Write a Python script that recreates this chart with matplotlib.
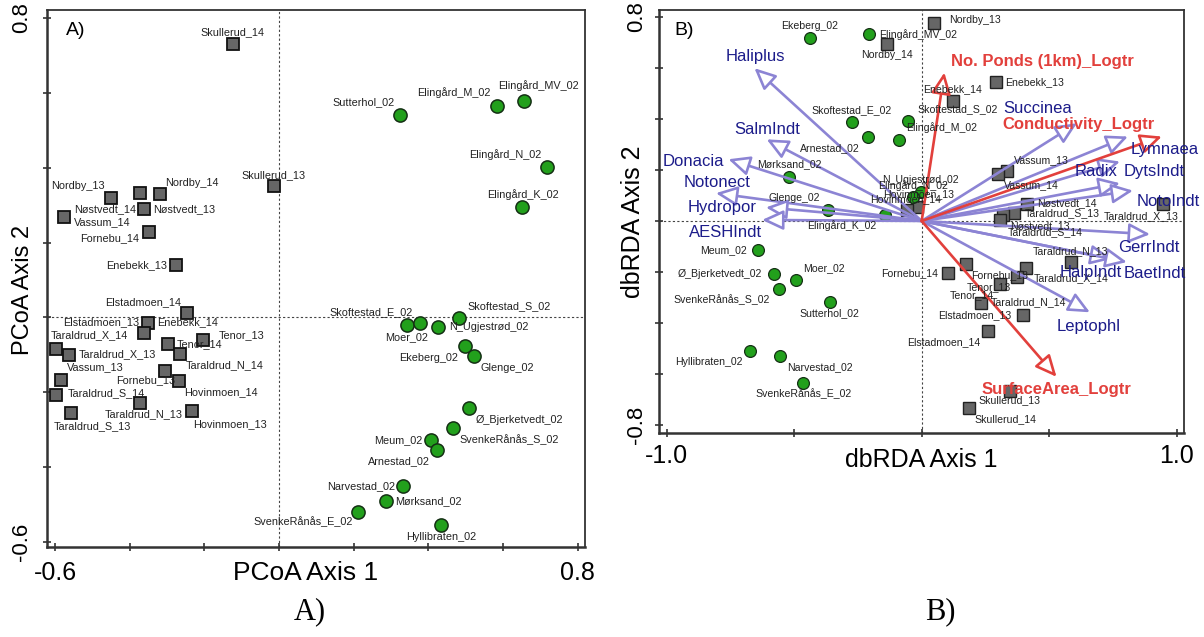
import matplotlib.pyplot as plt
import numpy as np

plt.rcParams['font.family'] = ['Liberation Sans', 'DejaVu Sans']

# ---- A) PCoA ----
a_sq_names = ['Skullerud_14', 'Skullerud_13', 'Nordby_13', 'Nøstvedt_14', 'Nordby_14', 'Nøstvedt_13',
              'Vassum_14', 'Fornebu_14', 'Enebekk_13', 'Elstadmoen_14', 'Enebekk_14', 'Elstadmoen_13',
              'Taraldrud_X_14', 'Taraldrud_X_13', 'Tenor_14', 'Tenor_13', 'Taraldrud_N_14', 'Fornebu_13',
              'Hovinmoen_14', 'Vassum_13', 'Taraldrud_S_14', 'Taraldrud_N_13', 'Taraldrud_S_13', 'Hovinmoen_13']
a_sq_x = [-0.124, -0.015, -0.451, -0.373, -0.319, -0.362, -0.576, -0.349, -0.277, -0.247, -0.350, -0.361,
          -0.599, -0.562, -0.299, -0.203, -0.265, -0.305, -0.267, -0.585, -0.598, -0.373, -0.558, -0.233]
a_sq_y = [0.731, 0.352, 0.319, 0.333, 0.330, 0.290, 0.267, 0.227, 0.139, 0.011, -0.015, -0.042,
          -0.083, -0.099, -0.072, -0.061, -0.097, -0.143, -0.171, -0.166, -0.206, -0.229, -0.255, -0.250]

a_ci_names = ['Sutterhol_02', 'Elingård_M_02', 'Elingård_MV_02', 'Elingård_N_02', 'Elingård_K_02',
              'Skoftestad_S_02', 'Moer_02', 'Skoftestad_E_02', 'N_Ugjestrød_02', 'Ekeberg_02', 'Glenge_02',
              'Ø_Bjerketvedt_02', 'SvenkeRånås_S_02', 'Meum_02', 'Arnestad_02', 'Narvestad_02',
              'Mørksand_02', 'SvenkeRånås_E_02', 'Hyllibraten_02']
a_ci_x = [0.324, 0.584, 0.657, 0.718, 0.652, 0.483, 0.342, 0.378, 0.427, 0.497, 0.521,
          0.508, 0.467, 0.408, 0.423, 0.331, 0.287, 0.211, 0.434]
a_ci_y = [0.541, 0.565, 0.577, 0.403, 0.294, -0.001, -0.021, -0.015, -0.026, -0.077, -0.104,
          -0.242, -0.294, -0.328, -0.355, -0.450, -0.490, -0.519, -0.555]

# ---- B) dbRDA ----
b_sq_names = ['Nordby_13', 'Nordby_14', 'Enebekk_13', 'Enebekk_14', 'Vassum_13', 'Vassum_14',
              'Hovinmoen_13', 'Hovinmoen_14', 'Nøstvedt_14', 'Taraldrud_S_13', 'Taraldrud_X_13', 'Nøstvedt_13',
              'Taraldrud_S_14', 'Taraldrud_N_13', 'Taraldrud_X_14', 'Fornebu_13', 'Taraldrud_N_14', 'Tenor_13',
              'Tenor_14', 'Elstadmoen_13', 'Elstadmoen_14', 'Fornebu_14', 'Skullerud_13', 'Skullerud_14']
b_sq_x = [0.048, -0.135, 0.290, 0.122, 0.333, 0.298, -0.017, -0.059, 0.412, 0.363, 0.947, 0.320,
          0.307, 0.585, 0.408, 0.173, 0.373, 0.307, 0.233, 0.396, 0.259, 0.104, 0.346, 0.185]
b_sq_y = [0.775, 0.693, 0.544, 0.472, 0.197, 0.183, 0.056, 0.043, 0.065, 0.030, 0.067, 0.024,
          0.004, -0.160, -0.183, -0.170, -0.218, -0.248, -0.320, -0.369, -0.431, -0.203, -0.665, -0.735]

b_ci_names = ['Ekeberg_02', 'Elingård_MV_02', 'Skoftestad_S_02', 'Elingård_M_02', 'Skoftestad_E_02',
              'Arnestad_02', 'Mørksand_02', 'Glenge_02', 'Elingård_K_02', 'N_Ugjestrød_02', 'Elingård_N_02',
              'Meum_02', 'Ø_Bjerketvedt_02', 'Moer_02', 'SvenkeRånås_S_02', 'Sutterhol_02',
              'Hyllibraten_02', 'Narvestad_02', 'SvenkeRånås_E_02']
b_ci_x = [-0.438, -0.205, -0.053, -0.088, -0.275, -0.212, -0.520, -0.369, -0.144, -0.003, -0.033,
          -0.643, -0.579, -0.494, -0.561, -0.360, -0.672, -0.555, -0.464]
b_ci_y = [0.719, 0.732, 0.393, 0.318, 0.389, 0.331, 0.174, 0.043, 0.024, 0.113, 0.095,
          -0.114, -0.208, -0.231, -0.268, -0.316, -0.510, -0.528, -0.634]

vec_names = ['Haliplus', 'SalmIndt', 'Donacia', 'Notonect', 'Hydropor', 'AESHIndt', 'Succinea',
             'Lymnaea', 'Radix', 'DytsIndt', 'NotoIndt', 'GerrIndt', 'HalpIndt', 'BaetIndt', 'Leptophl']
vec_x = [-0.656, -0.608, -0.758, -0.807, -0.611, -0.626, 0.609, 0.809, 0.778, 0.778, 0.829, 0.896, 0.746, 0.805, 0.660]
vec_y = [0.599, 0.320, 0.242, 0.109, 0.053, 0.004, 0.383, 0.331, 0.233, 0.148, 0.119, -0.052, -0.149, -0.161, -0.358]

env_names = ['No. Ponds (1km)_Logtr', 'Conductivity_Logtr', 'SurfaceArea_Logtr']
env_x = [0.089, 0.942, 0.529]
env_y = [0.582, 0.331, -0.611]

# label offsets (pixels) for text placement
a_sq_off = [(0, 12), (0, 11), (-33, 12), (-35, -16), (32, 11), (40, 0), (38, -5), (-39, -6), (-39, 0),
            (-44, 11), (39, 1), (-43, 11), (34, 13), (48, 0), (32, 0), (38, 5), (44, -11), (-20, -9),
            (41, -11), (35, 12), (50, 1), (4, -11), (22, -13), (38, -13)]
a_ci_off = [(-36, 13), (-43, 13), (14, 16), (-42, 12), (0, 13), (50, 12), (0, -12), (-49, 11), (50, 0),
            (-36, -12), (34, -12), (51, -12), (56, -12), (-33, 0), (-38, -11), (-42, 0), (42, 0), (-55, -10),
            (0, -12)]
b_sq_off = [(41, 3), (0, -11), (39, 0), (0, 11), (35, 11), (34, -11), (1, 13), (-1, 11), (40, 1), (48, 0),
            (-22, -12), (37, -11), (45, -12), (0, 11), (45, -10), (34, -11), (12, -26), (-11, -3), (-9, 7),
            (-48, 0), (-44, -11), (-39, 0), (0, -10), (37, -11)]
b_ci_off = [(0, 12), (49, 0), (50, 12), (42, 12), (0, 12), (-38, -12), (0, 12), (-33, 12), (-43, -11),
            (0, 12), (0, 11), (-34, 0), (-54, 0), (28, 12), (-57, -10), (0, -12), (-41, -11), (40, -11),
            (0, -11)]
vec_off = [(1, 12), (1, 10), (-35, -2), (1, 11), (-44, 0), (-37, -13), (-39, 15), (37, -13), (-24, -10),
           (34, 12), (35, -11), (-1, -13), (-21, -14), (28, -11), (-1, -14)]
env_off = [(98, 11), (-83, 12), (0, -13)]

sq_face = '#666666'
ci_face = '#22a01c'
lav = '#8c84d4'
navy = '#1c1c8a'
red = '#e2403c'


def put_labels(ax, xs, ys, names, offs, size=7.8, color='#222222', weight='normal'):
    for x, y, n, (dx, dy) in zip(xs, ys, names, offs):
        ax.annotate(n, (x, y), xytext=(dx, dy), textcoords='offset pixels', ha='center', va='center',
                    fontsize=size, color=color, fontweight=weight, zorder=5, annotation_clip=False)


def style_axes(ax):
    for s in ax.spines.values():
        s.set_color('#333333')
        s.set_linewidth(1.3)
    ax.spines['left'].set_linewidth(1.8)
    ax.spines['bottom'].set_linewidth(1.8)
    ax.tick_params(direction='inout', length=6, width=1.2, color='#333333', top=False, right=False)
    ax.tick_params(axis='x', labelsize=18)
    ax.tick_params(axis='y', labelsize=16)
    ax.axhline(0, color='#444444', lw=0.8, ls=(0, (2, 2)), zorder=1)
    ax.axvline(0, color='#444444', lw=0.8, ls=(0, (2, 2)), zorder=1)


fig = plt.figure(figsize=(12.04, 6.37), dpi=100)

# ---------- panel A ----------
ax1 = fig.add_axes([0.039, 0.1413, 0.447, 0.843])
style_axes(ax1)
ax1.plot(a_sq_x, a_sq_y, 's', ms=9, mfc=sq_face, mec='#111111', mew=1.3, zorder=3)
ax1.plot(a_ci_x, a_ci_y, 'o', ms=9.5, mfc=ci_face, mec='#153015', mew=1.1, zorder=3)
put_labels(ax1, a_sq_x, a_sq_y, a_sq_names, a_sq_off)
put_labels(ax1, a_ci_x, a_ci_y, a_ci_names, a_ci_off)
ax1.set_xlim(-0.622, 0.820)
ax1.set_ylim(-0.613, 0.821)
xt = np.round(np.arange(-0.6, 0.81, 0.2), 1)
ax1.set_xticks(xt)
ax1.set_xticklabels(['-0.6'] + [''] * 6 + ['0.8'])
ax1.set_yticks(xt)
ax1.set_yticklabels(['-0.6'] + [''] * 6 + ['0.8'], rotation=90, va='center')
ax1.tick_params(axis='x', pad=7)
ax1.tick_params(axis='y', pad=8)
ax1.set_xlabel('PCoA Axis 1', fontsize=19)
ax1.xaxis.set_label_coords(0.48, -0.027)
ax1.set_ylabel('PCoA Axis 2', fontsize=17)
ax1.yaxis.set_label_coords(-0.024, 0.479)
ax1.text(0.035, 0.978, 'A)', transform=ax1.transAxes, fontsize=14, va='top', ha='left')

# ---------- panel B ----------
ax2 = fig.add_axes([0.5476, 0.3207, 0.4358, 0.6636])
style_axes(ax2)
ax2.plot(b_sq_x, b_sq_y, 's', ms=8, mfc=sq_face, mec='#222222', mew=1.0, zorder=2)
ax2.plot(b_ci_x, b_ci_y, 'o', ms=8.5, mfc=ci_face, mec='#153015', mew=0.9, zorder=2)

head = '-|>,head_length=0.65,head_width=0.3'
for x, y in zip(vec_x, vec_y):
    ax2.annotate('', xy=(x, y), xytext=(0, 0),
                 arrowprops=dict(arrowstyle=head, mutation_scale=20, lw=1.9, ec=lav, fc='white',
                                 shrinkA=0, shrinkB=0), zorder=3)
for x, y in zip(env_x, env_y):
    ax2.annotate('', xy=(x, y), xytext=(0, 0),
                 arrowprops=dict(arrowstyle=head, mutation_scale=20, lw=1.9, ec=red, fc='white',
                                 shrinkA=0, shrinkB=0), zorder=3)

put_labels(ax2, b_sq_x, b_sq_y, b_sq_names, b_sq_off, size=7.6)
put_labels(ax2, b_ci_x, b_ci_y, b_ci_names, b_ci_off, size=7.6)
put_labels(ax2, vec_x, vec_y, vec_names, vec_off, size=12, color=navy)
put_labels(ax2, env_x, env_y, env_names, env_off, size=12, color=red, weight='bold')

ax2.set_xlim(-1.029, 1.029)
ax2.set_ylim(-0.830, 0.827)
ax2.set_xticks([-1.0, -0.5, 0, 0.5, 1.0])
ax2.set_xticklabels(['-1.0', '', '', '', '1.0'])
yt = np.round(np.arange(-0.8, 0.81, 0.2), 1)
ax2.set_yticks(yt)
ax2.set_yticklabels(['-0.8'] + [''] * 7 + ['0.8'], rotation=90, va='center')
ax2.tick_params(axis='x', pad=5)
ax2.tick_params(axis='y', pad=6)
ax2.set_xlabel('dbRDA Axis 1', fontsize=18)
ax2.xaxis.set_label_coords(0.5, -0.035)
ax2.set_ylabel('dbRDA Axis 2', fontsize=18)
ax2.yaxis.set_label_coords(-0.027, 0.5)
ax2.text(0.028, 0.972, 'B)', transform=ax2.transAxes, fontsize=14, va='top', ha='left')

fig.text(310 / 1204, 1 - 612 / 637, 'A)', fontsize=22, family='Liberation Serif', ha='center', va='center')
fig.text(940 / 1204, 1 - 612 / 637, 'B)', fontsize=22, family='Liberation Serif', ha='center', va='center')

fig.savefig('out.png', dpi=100)
